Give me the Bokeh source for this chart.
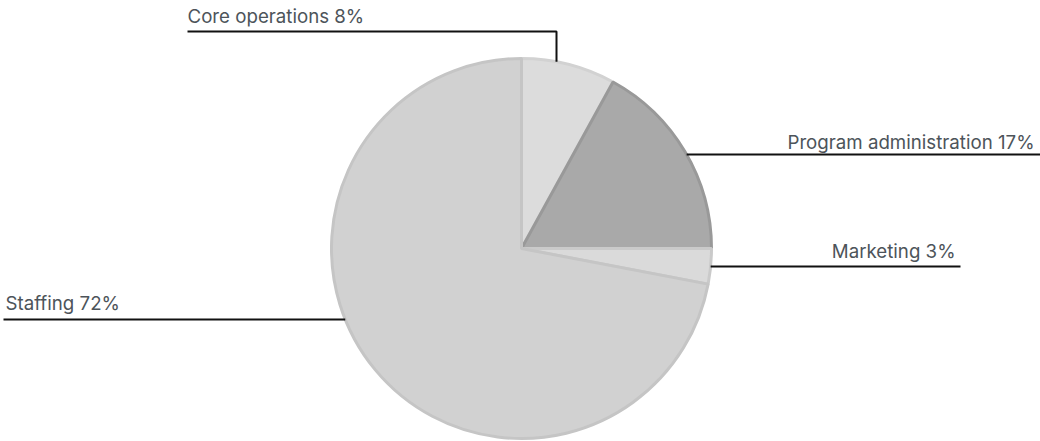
import numpy as np
from bokeh.plotting import figure
from bokeh.models import Range1d, ColumnDataSource
from bokeh.embed import file_html
from bokeh.resources import INLINE
from bokeh.core.properties import value

# ---- data ----
categories = ["Core operations", "Program administration", "Marketing", "Staffing"]
shares = [8, 17, 3, 72]

# ---- style ----
fills = ["#dcdcdc", "#a9a9a9", "#dadada", "#d1d1d1"]
borders = ["#d2d2d2", "#999999", "#cacaca", "#c5c5c5"]
TEXT_COLOR = "#4d545a"
FONT = "Inter"

W, H = 1040, 441
# data coordinates: x = screen x, y = H - screen y
cx, cy, R = 521, H - 248, 190

p = figure(width=W, height=H, x_range=Range1d(0, W), y_range=Range1d(0, H),
           output_backend="svg", toolbar_location=None, min_border=0)
p.axis.visible = False
p.grid.visible = False
p.outline_line_color = None
p.background_fill_color = "white"
p.border_fill_color = "white"

frac = np.array(shares, dtype=float) / sum(shares)
cum = np.concatenate([[0], np.cumsum(frac)])
start = np.pi / 2 - 2 * np.pi * cum[:-1]
end = np.pi / 2 - 2 * np.pi * cum[1:]

src = ColumnDataSource(dict(cat=categories, start=start, end=end, fill=fills, border=borders))
p.wedge(x=cx, y=cy, radius=R, start_angle="start", end_angle="end", direction="clock",
        fill_color="fill", line_color="border", line_width=3, source=src)

# ---- labels with leader lines ----
labels = [f"{c} {s}%" for c, s in zip(categories, shares)]
# per label: text x, text baseline (screen y), align, leader y (screen), outer end x
lab_x = [187, 1034, 955, 5]
lab_base = [16, 142, 251, 303]
lab_align = ["left", "right", "right", "left"]
lead_y = [31, 154, 266, 319]
lead_outer = [187, 1040, 960, 3]
core_drop_x = 556

for i, lab in enumerate(labels):
    p.text(x=[lab_x[i]], y=[H - lab_base[i]], text=[lab], text_align=lab_align[i],
           text_baseline="alphabetic", text_font=value(FONT), text_font_size="18.7px",
           text_color=TEXT_COLOR)
    ly = H - lead_y[i]
    if i == 0:
        dx = core_drop_x - cx
        ey = cy + np.sqrt(R ** 2 - dx ** 2)
        xs = [lead_outer[i], core_drop_x, core_drop_x]
        ys = [ly, ly, ey]
    else:
        dy = ly - cy
        ex = np.sqrt(R ** 2 - dy ** 2)
        edge_x = cx + ex if lab_align[i] == "right" else cx - ex
        xs = [edge_x, lead_outer[i]]
        ys = [ly, ly]
    p.line(x=xs, y=ys, line_color="#111111", line_width=2)

open("out.html", "w").write(file_html(p, INLINE))
